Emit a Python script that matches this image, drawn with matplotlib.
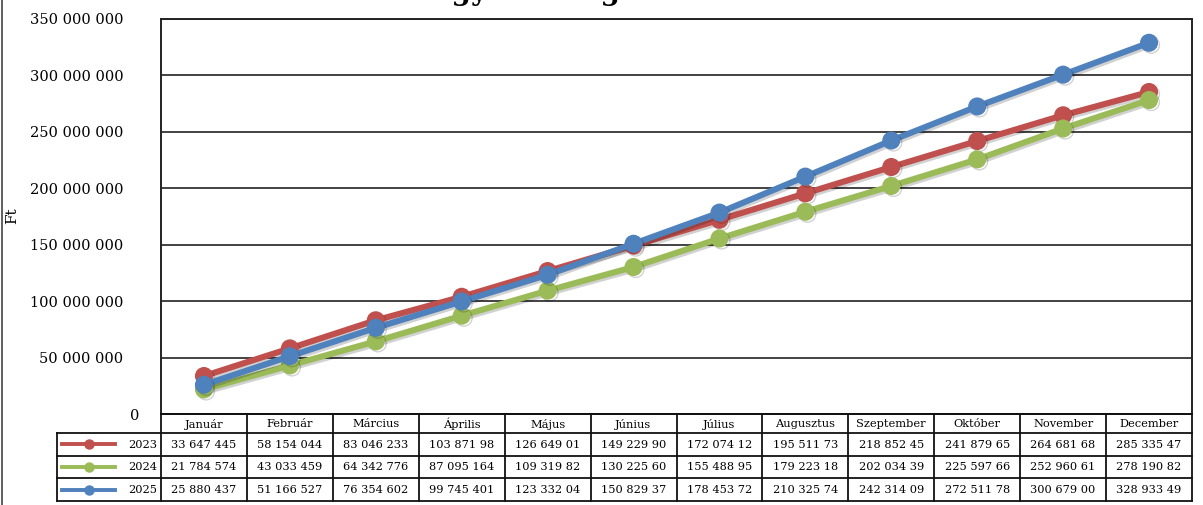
import matplotlib
matplotlib.use("Agg")
import matplotlib.pyplot as plt
import matplotlib.patheffects as pe
import matplotlib.transforms as mtransforms
from matplotlib.lines import Line2D

months = ["Január", "Február", "Március", "Április", "Május", "Június",
          "Július", "Augusztus", "Szeptember", "Október", "November", "December"]
years = ["2023", "2024", "2025"]
v2023 = [33647445, 58154044, 83046233, 103871980, 126649010, 149229900,
         172074120, 195511730, 218852450, 241879650, 264681680, 285335470]
v2024 = [21784574, 43033459, 64342776, 87095164, 109319820, 130225600,
         155488950, 179223180, 202034390, 225597660, 252960610, 278190820]
v2025 = [25880437, 51166527, 76354602, 99745401, 123332040, 150829370,
         178453720, 210325740, 242314090, 272511780, 300679000, 328933490]
series = [v2023, v2024, v2025]
colors = ["#C0504D", "#9BBB59", "#4F81BD"]
yticks = [0, 50000000, 100000000, 150000000, 200000000, 250000000, 300000000, 350000000]
title = "Kumulált nagyker. forgalom és bevétel"

FONT = "DejaVu Serif"
W, H = 1203, 505
fig = plt.figure(figsize=(W / 100, H / 100), dpi=100)

def fx(px):
    return px / W

def fy(py):
    return 1 - py / H

L, R, T, B = 161, 1192, 19, 414
ax = fig.add_axes([fx(L), fy(B), fx(R - L), (B - T) / H])
x = list(range(len(months)))
shadow = [pe.SimpleLineShadow(offset=(1.5, -1.5), alpha=0.18, shadow_color="#000000"), pe.Normal()]
for vals, c in zip(series, colors):
    ax.plot(x, vals, color=c, lw=4.4, marker="o", ms=12, mec=c, mfc=c,
            solid_capstyle="round", path_effects=shadow, clip_on=False)
ax.set_xlim(-0.5, 11.5)
ax.set_ylim(0, 350000000)
ax.set_yticks(yticks)
ax.set_yticklabels([f"{v:,}".replace(",", " ") for v in yticks], fontfamily=FONT, fontsize=10.5)
ax.set_xticks([])
ax.tick_params(axis="y", length=0, pad=27)
# the zero label sits further right in the reference
zero_lab = ax.get_yticklabels()[0]
zero_lab.set_transform(zero_lab.get_transform() +
                       mtransforms.ScaledTranslation(16 / 100, 0, fig.dpi_scale_trans))
ax.grid(axis="y", color="#222222", lw=1.2)
ax.set_axisbelow(True)
for s in ax.spines.values():
    s.set_color("#222222")
    s.set_linewidth(1.4)
fig.text(fx(12), fy(216), "Ft", rotation=90, ha="center", va="center",
         fontfamily=FONT, fontsize=11)

# data table
tb = fig.add_axes([fx(L), fy(501), fx(R - L), (501 - B) / H])
tb.set_xlim(-0.5, 11.5)
tb.set_ylim(87, 0)
tb.axis("off")
unit = (R - L) / 12.0
lab_left = -0.5 - (L - 57) / unit
rows = [0, 19, 41.5, 64, 87]
lc = "#111111"
lw = 1.3
tb.plot([-0.5, 11.5], [0, 0], color=lc, lw=lw, clip_on=False)
for yy in rows[1:]:
    tb.plot([lab_left, 11.5], [yy, yy], color=lc, lw=lw, clip_on=False)
for i in range(13):
    tb.plot([i - 0.5, i - 0.5], [0, 87], color=lc, lw=lw, clip_on=False)
tb.plot([lab_left, lab_left], [rows[1], 87], color=lc, lw=lw, clip_on=False)
for i, m in enumerate(months):
    tb.text(i, (rows[0] + rows[1]) / 2 + 0.5, m, ha="center", va="center",
            fontfamily=FONT, fontsize=8.2)
for r, (yr, vals, c) in enumerate(zip(years, series, colors)):
    yc = (rows[r + 1] + rows[r + 2]) / 2
    for i, v in enumerate(vals):
        s = f"{v:,}".replace(",", " ")[:10]
        tb.text(i, yc + 0.5, s, ha="center", va="center", fontfamily=FONT, fontsize=8.2)
    x0 = lab_left + 5 / unit
    x1 = lab_left + 58 / unit
    tb.add_line(Line2D([x0, x1], [yc, yc], color=c, lw=2.8, clip_on=False))
    tb.add_line(Line2D([(x0 + x1) / 2], [yc], color=c, marker="o", ms=6.5, clip_on=False))
    tb.text(-0.5 - 4 / unit, yc + 0.5, yr, ha="right", va="center", fontfamily=FONT, fontsize=8.2)

# chart frame left edge
fig.add_artist(Line2D([fx(2), fx(2)], [0, 1], color="#444444", lw=1.2))
# title, cut off at the top edge as in the reference
fig.text(fx(560), fy(0.5), title, ha="center", va="baseline", fontfamily=FONT,
         fontsize=20, fontweight="bold")

fig.savefig("out.png", dpi=100)
